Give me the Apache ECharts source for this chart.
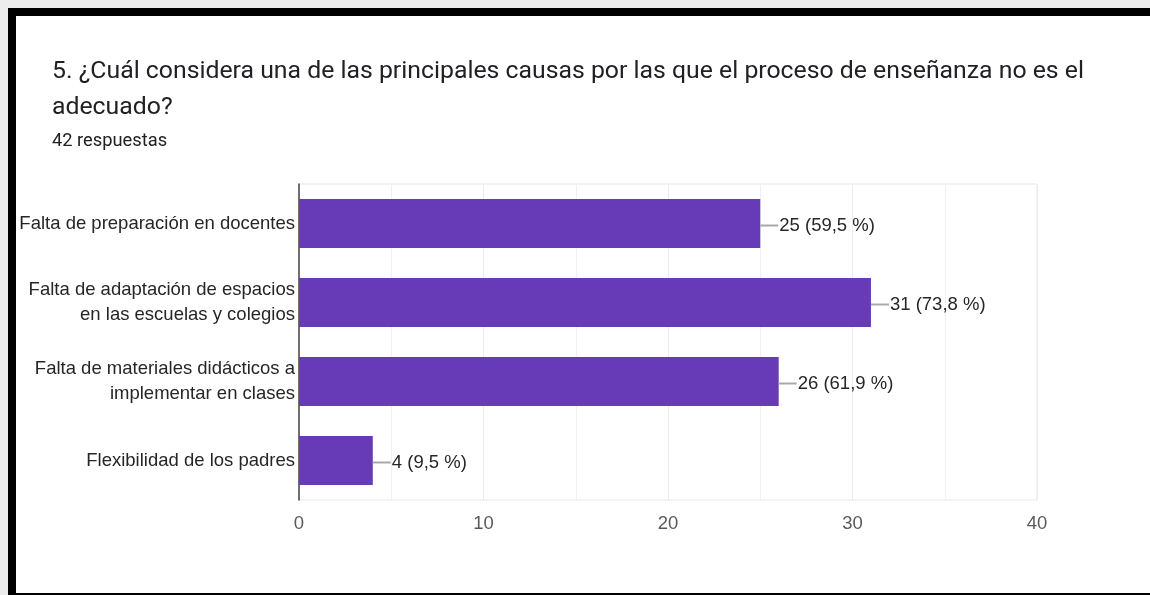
<!DOCTYPE html>
<html>
<head>
<meta charset="utf-8">
<script src="https://cdn.jsdelivr.net/npm/echarts@6/dist/echarts.min.js"></script>
<style>
  html, body { margin: 0; padding: 0; width: 1150px; height: 595px; background: #ececec; overflow: hidden; }
  #frame { position: absolute; left: 8px; top: 8px; width: 1142px; height: 587px; box-sizing: border-box;
           border-top: 8px solid #000; border-left: 8px solid #000; border-bottom: 2px solid #000; background: #fff; }
  #chart { position: absolute; left: 0; top: 0; width: 1150px; height: 595px; }
</style>
</head>
<body>
<div id="frame"></div>
<div id="chart"></div>
<script>
const titleText = '5. ¿Cuál considera una de las principales causas por las que el proceso de enseñanza no es el\nadecuado?';
const subtitleText = '42 respuestas';
const categories = [
  'Falta de preparación en docentes',
  'Falta de adaptación de espacios\nen las escuelas y colegios',
  'Falta de materiales didácticos a\nimplementar en clases',
  'Flexibilidad de los padres'
];
const counts = [25, 31, 26, 4];
const percentLabels = ['59,5 %', '73,8 %', '61,9 %', '9,5 %'];
const xTicks = [0, 10, 20, 30, 40];

const chart = echarts.init(document.getElementById('chart'), null, { renderer: 'canvas' });
const option = {
  backgroundColor: 'transparent',
  animation: false,
  title: [
    { text: titleText, left: 52, top: 54, padding: 0,
      textStyle: { fontFamily: 'Roboto', fontSize: 24.8, fontWeight: 'normal', color: '#202124', lineHeight: 36 } },
    { text: subtitleText, left: 52, top: 131, padding: 0,
      textStyle: { fontFamily: 'Roboto', fontSize: 18.3, fontWeight: 'normal', color: '#202124', lineHeight: 20 } }
  ],
  grid: { left: 299, right: 113, top: 184, bottom: 95, show: true, borderColor: '#e6e6e6', borderWidth: 1, containLabel: false },
  xAxis: {
    type: 'value', min: xTicks[0], max: xTicks[xTicks.length - 1], interval: 10,
    axisLine: { show: false }, axisTick: { show: false },
    splitLine: { show: true, lineStyle: { color: '#ebebeb', width: 1 } },
    minorTick: { show: false, splitNumber: 2 },
    minorSplitLine: { show: true, lineStyle: { color: '#f0f0f0', width: 1 } },
    axisLabel: { fontFamily: 'Liberation Sans', fontSize: 18.5, color: '#5a5a5a', margin: 14 }
  },
  yAxis: {
    type: 'category', inverse: true, data: categories,
    axisLine: { show: true, lineStyle: { color: '#444', width: 1.5 } },
    axisTick: { show: false },
    axisLabel: { fontFamily: 'Liberation Sans', fontSize: 18.5, color: '#262626', margin: 4, lineHeight: 25, align: 'right', padding: [4, 0, 0, 0] }
  },
  series: [{
    type: 'bar', data: counts, barWidth: 49,
    itemStyle: { color: '#673ab7' },
    label: {
      show: true, position: 'right', distance: 0, offset: [0, 2],
      formatter: p => '{l|}{t|' + p.value + ' (' + percentLabels[p.dataIndex] + ')}',
      rich: {
        l: { width: 18, height: 2, backgroundColor: '#a8a8a8', verticalAlign: 'middle' },
        t: { fontFamily: 'Liberation Sans', fontSize: 18.5, color: '#262626', padding: [0, 0, 0, 1], verticalAlign: 'middle' }
      }
    }
  }]
};
chart.setOption(option);
</script>
</body>
</html>
